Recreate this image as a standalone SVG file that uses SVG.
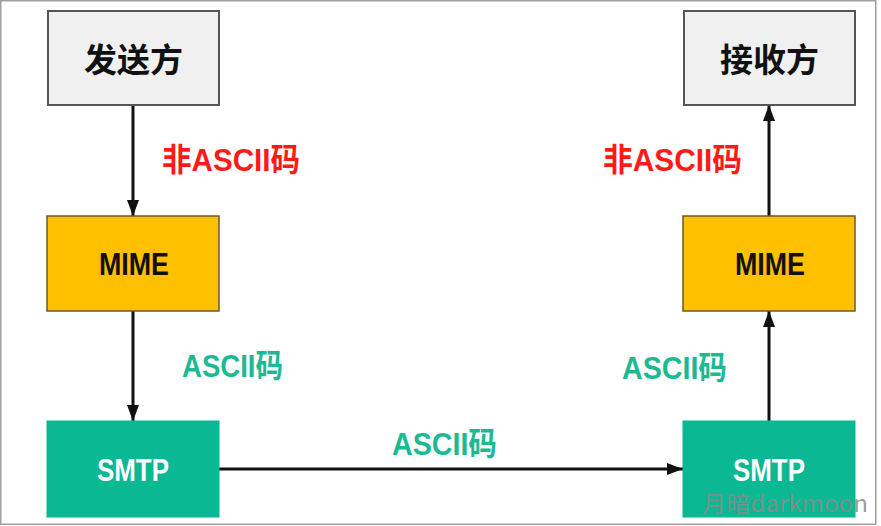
<svg xmlns="http://www.w3.org/2000/svg" width="881" height="526" viewBox="0 0 881 526">
<defs>
<style>
.frame{fill:#ffffff;stroke:#a0a0a0;stroke-width:1.5}
.gray{fill:#f0f0f0;stroke:#555555;stroke-width:2}
.mime{fill:#ffc000;stroke:#6b5a2a;stroke-width:1.5}
.smtp{fill:#0ab893;stroke:#0ab893;stroke-width:1}
.t{font-family:"Liberation Sans","Noto Sans CJK SC",sans-serif;font-weight:bold;text-anchor:middle;dominant-baseline:central}
.cn{font-family:"Noto Sans CJK SC",sans-serif;font-weight:bold;font-size:33px;fill:#111111;text-anchor:middle;dominant-baseline:central}
.node{font-size:31px;fill:#111111}
.white{fill:#ffffff}
.red{fill:#ff1a1a;font-size:32px}
.green{fill:#1db992;font-size:32px}
.wm{font-family:"Noto Sans CJK SC",sans-serif;font-size:23px;fill:#8a8a8a;fill-opacity:0.85}
.c{stroke:#111111;stroke-width:3;fill:none;marker-end:url(#ah)}
</style>
<marker id="ah" viewBox="0 0 16 12" refX="16" refY="6" markerWidth="16" markerHeight="12" markerUnits="userSpaceOnUse" orient="auto">
<path d="M0,0 L16,6 L0,12 Z" fill="#111111"/>
</marker>
</defs>
<rect class="frame" x="0.75" y="0.75" width="875" height="523.5"/>
<g id="connectors">
<line class="c" x1="133" y1="105" x2="133" y2="216"/>
<line class="c" x1="133" y1="311" x2="133" y2="421"/>
<line class="c" x1="219" y1="469" x2="683" y2="469"/>
<line class="c" x1="769" y1="421" x2="769" y2="311"/>
<line class="c" x1="769" y1="216" x2="769" y2="105"/>
</g>
<g id="sender">
<rect class="gray" x="48" y="11" width="171" height="94"/>
<text class="cn" x="133.5" y="58">发送方</text>
</g>
<g id="receiver">
<rect class="gray" x="684" y="11" width="171" height="94"/>
<text class="cn" x="769.5" y="58">接收方</text>
</g>
<g id="mime-left">
<rect class="mime" x="47" y="216" width="172" height="95"/>
<text class="t node" x="134" y="264" textLength="70" lengthAdjust="spacingAndGlyphs">MIME</text>
</g>
<g id="mime-right">
<rect class="mime" x="683" y="216" width="172" height="95"/>
<text class="t node" x="770" y="264" textLength="70" lengthAdjust="spacingAndGlyphs">MIME</text>
</g>
<g id="smtp-left">
<rect class="smtp" x="47" y="421" width="172" height="96"/>
<text class="t node white" x="133" y="470" textLength="72" lengthAdjust="spacingAndGlyphs">SMTP</text>
</g>
<g id="smtp-right">
<rect class="smtp" x="683" y="421" width="172" height="96"/>
<text class="t node white" x="769" y="470" textLength="72" lengthAdjust="spacingAndGlyphs">SMTP</text>
</g>
<g id="labels">
<text class="t red" x="231" y="160" textLength="138" lengthAdjust="spacingAndGlyphs">非ASCII码</text>
<text class="t red" x="672.5" y="160" textLength="139" lengthAdjust="spacingAndGlyphs">非ASCII码</text>
<text class="t green" x="232.5" y="366" textLength="101" lengthAdjust="spacingAndGlyphs">ASCII码</text>
<text class="t green" x="674.5" y="368" textLength="105" lengthAdjust="spacingAndGlyphs">ASCII码</text>
<text class="t green" x="444.5" y="444" textLength="105" lengthAdjust="spacingAndGlyphs">ASCII码</text>
</g>
<text class="wm" x="702" y="512" textLength="166" lengthAdjust="spacingAndGlyphs">月暗darkmoon</text>
</svg>
